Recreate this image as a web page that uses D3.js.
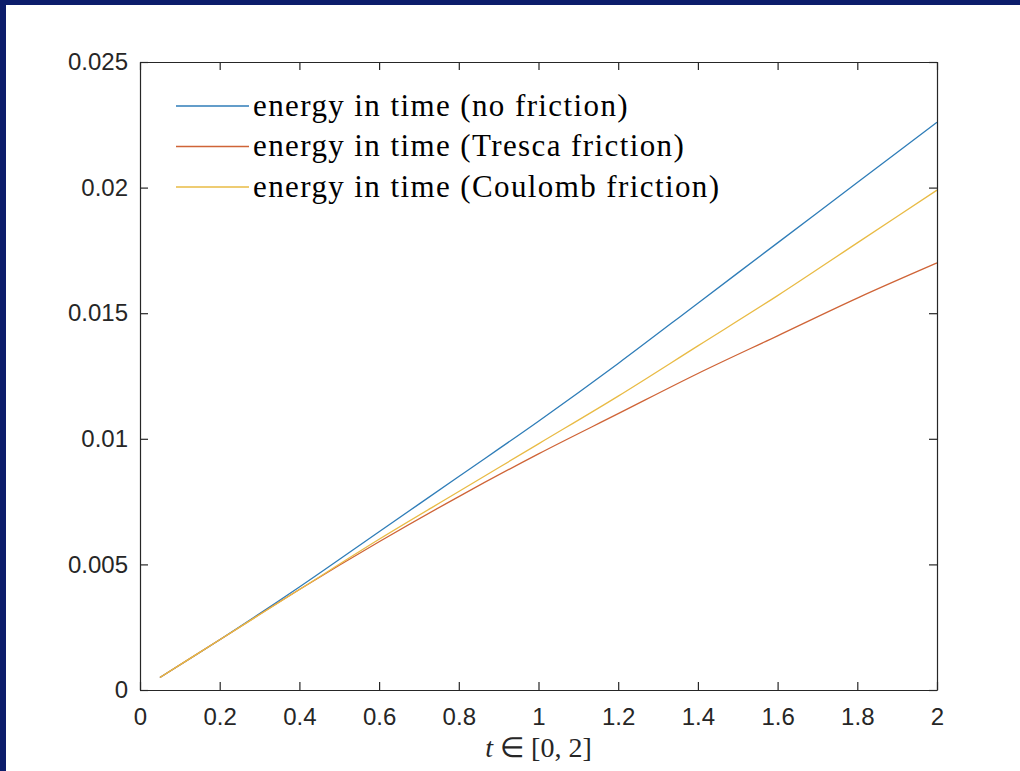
<!DOCTYPE html>
<html>
<head>
<meta charset="utf-8">
<script src="https://cdn.jsdelivr.net/npm/d3@7"></script>
<style>
  body { margin: 0; background: #ffffff; }
  svg { display: block; }
</style>
</head>
<body>
<div id="chart"></div>
<script>
// time samples and energy of the three runs
var tValues     = [0.05, 0.2, 0.4, 0.6, 0.8, 1.0, 1.2, 1.4, 1.6, 1.8, 2.0];
var noFriction  = [0.0005, 0.0020, 0.0041, 0.0063, 0.0085, 0.0107, 0.0130, 0.0154, 0.0178, 0.0202, 0.0226];
var tresca      = [0.0005, 0.0020, 0.0040, 0.0059, 0.0077, 0.0094, 0.0110, 0.0126, 0.0141, 0.0156, 0.0170];
var coulomb     = [0.0005, 0.0020, 0.0040, 0.0060, 0.0079, 0.0098, 0.0117, 0.0137, 0.0157, 0.0178, 0.0199];

var seriesNames = ["energy in time (no friction)", "energy in time (Tresca friction)", "energy in time (Coulomb friction)"];
var seriesColors = ["#2f7db8", "#cf6437", "#e9bb45"];

var xTicks = [0, 0.2, 0.4, 0.6, 0.8, 1, 1.2, 1.4, 1.6, 1.8, 2];
var xTickLabels = ["0", "0.2", "0.4", "0.6", "0.8", "1", "1.2", "1.4", "1.6", "1.8", "2"];
var yTicks = [0, 0.005, 0.01, 0.015, 0.02, 0.025];
var yTickLabels = ["0", "0.005", "0.01", "0.015", "0.02", "0.025"];

var width = 1020, height = 771;
var margin = {left: 140, top: 62, right: 83, bottom: 81};
var axisColor = "#262626";

var svg = d3.select("#chart").append("svg")
    .attr("width", width)
    .attr("height", height);

// dark blue frame on top and left
svg.append("rect").attr("x", 0).attr("y", 0).attr("width", width).attr("height", 5).attr("fill", "#0c1d6b");
svg.append("rect").attr("x", 0).attr("y", 0).attr("width", 6).attr("height", height).attr("fill", "#0c1d6b");

var x = d3.scaleLinear().domain([0, 2]).range([margin.left, width - margin.right]);
var y = d3.scaleLinear().domain([0, 0.025]).range([height - margin.bottom, margin.top]);

var g = svg.append("g");

// lines
var series = [noFriction, tresca, coulomb];
var line = d3.line()
    .x(function(d) { return x(d[0]); })
    .y(function(d) { return y(d[1]); })
    .curve(d3.curveMonotoneX);

series.forEach(function(vals, i) {
    var pts = tValues.map(function(t, j) { return [t, vals[j]]; });
    g.append("path")
	.datum(pts)
	.attr("d", line)
	.attr("fill", "none")
	.attr("stroke", seriesColors[i])
	.attr("stroke-width", 1.3);
});

// axes with inward ticks, box style
var tickLen = 8;
var xAxis = d3.axisBottom(x).tickValues(xTicks).tickSizeInner(-tickLen).tickSizeOuter(0)
    .tickFormat(function(d, i) { return xTickLabels[i]; });
var xAxisTop = d3.axisTop(x).tickValues(xTicks).tickSizeInner(-tickLen).tickSizeOuter(0).tickFormat("");
var yAxis = d3.axisLeft(y).tickValues(yTicks).tickSizeInner(-tickLen).tickSizeOuter(0)
    .tickFormat(function(d, i) { return yTickLabels[i]; });
var yAxisRight = d3.axisRight(y).tickValues(yTicks).tickSizeInner(-tickLen).tickSizeOuter(0).tickFormat("");

function styleAxis(sel) {
    sel.selectAll("path").attr("stroke", axisColor).attr("stroke-width", 1.2);
    sel.selectAll("line").attr("stroke", axisColor).attr("stroke-width", 1.2);
    sel.selectAll("text")
	.attr("fill", axisColor)
	.style("font-family", "'Liberation Sans', Arial, sans-serif")
	.style("font-size", "24px");
}

var gx = svg.append("g").attr("transform", "translate(0," + y(0) + ")").call(xAxis).call(styleAxis);
gx.selectAll("text").attr("y", 18).attr("dy", "0.71em");
svg.append("g").attr("transform", "translate(0," + y(0.025) + ")").call(xAxisTop).call(styleAxis);
var gy = svg.append("g").attr("transform", "translate(" + x(0) + ",0)").call(yAxis).call(styleAxis);
gy.selectAll("text").attr("x", -12);
svg.append("g").attr("transform", "translate(" + x(2) + ",0)").call(yAxisRight).call(styleAxis);

// x label
var xl = svg.append("text")
    .attr("x", x(1))
    .attr("y", 757)
    .attr("text-anchor", "middle")
    .attr("fill", axisColor)
    .style("font-family", "'Liberation Serif', 'Times New Roman', serif")
    .style("font-size", "28px");
xl.append("tspan").style("font-style", "italic").text("t");
xl.append("tspan").text(" \u2208 [0, 2]");

// legend
var legend = svg.append("g").attr("transform", "translate(176,106)");
seriesNames.forEach(function(name, i) {
    var row = legend.append("g").attr("transform", "translate(0," + (i * 40.5) + ")");
    row.append("line")
	.attr("x1", 0).attr("x2", 73)
	.attr("y1", 0).attr("y2", 0)
	.attr("stroke", seriesColors[i])
	.attr("stroke-width", 1.3);
    row.append("text")
	.attr("x", 77)
	.attr("y", 0)
	.attr("dy", "0.32em")
	.attr("fill", "#000")
	.style("font-family", "'Liberation Serif', 'Times New Roman', serif")
	.style("font-size", "31px")
	.style("letter-spacing", "1.4px")
	.text(name);
});
</script>
</body>
</html>
